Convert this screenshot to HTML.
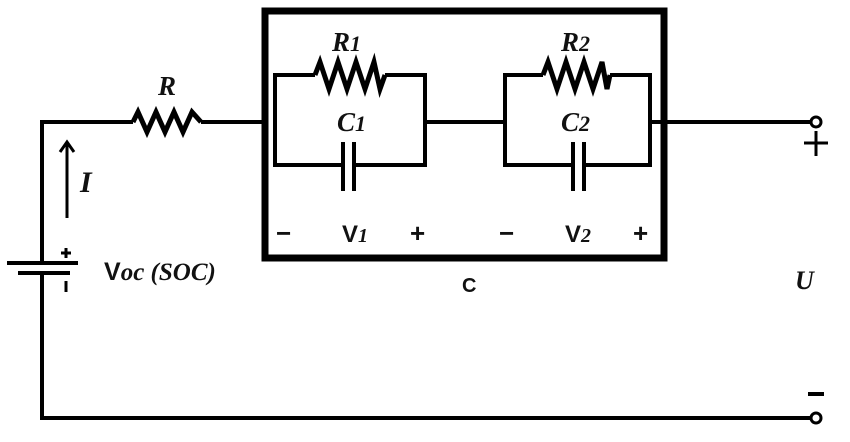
<!DOCTYPE html>
<html><head><meta charset="utf-8"><style>
html,body{margin:0;padding:0;background:#fff;}
svg{display:block;}
.w{stroke:#000;stroke-width:4;fill:none;stroke-linejoin:miter;}
.z{stroke:#000;stroke-width:5;fill:none;stroke-linejoin:miter;}
.s{font-family:"Liberation Serif",serif;font-weight:bold;font-style:italic;fill:#111;}
.a{font-family:"Liberation Sans",sans-serif;font-weight:bold;fill:#111;}
</style></head><body>
<svg width="850" height="442" viewBox="0 0 850 442" xmlns="http://www.w3.org/2000/svg">
<polyline class="w" points="42,263 42,122 133,122"/>
<polyline class="z" points="133,122 138,112 147,132 156,112 165,132 174,112 183,132 192,112 201,122"/>
<line class="w" x1="201" y1="122" x2="265" y2="122"/>
<polyline class="w" points="42,273 42,418 811,418"/>
<circle cx="816" cy="418" r="5" fill="#fff" stroke="#000" stroke-width="3"/>
<line class="w" x1="664" y1="122" x2="811" y2="122"/>
<circle cx="816" cy="122" r="5" fill="#fff" stroke="#000" stroke-width="3"/>
<line class="w" x1="7" y1="263" x2="78" y2="263"/>
<line class="w" x1="18" y1="273" x2="70" y2="273"/>
<line x1="66" y1="248" x2="66" y2="258" stroke="#000" stroke-width="3"/>
<line x1="61" y1="253" x2="71" y2="253" stroke="#000" stroke-width="3"/>
<line x1="66" y1="281" x2="66" y2="292" stroke="#000" stroke-width="3"/>
<line x1="67" y1="218" x2="67" y2="143" stroke="#000" stroke-width="3"/>
<polyline points="60,152 67,142 74,152" stroke="#000" stroke-width="3" fill="none"/>
<rect x="265" y="11" width="399" height="247" fill="none" stroke="#000" stroke-width="7"/>
<polyline class="w" points="275,122 275,75 315,75"/>
<polyline class="z" points="315,75 320,62 329,89 338,62 347,89 356,62 365,89 374,62 380,89 385,75"/>
<polyline class="w" points="385,75 425,75 425,165 354,165"/>
<polyline class="w" points="343,165 275,165 275,122"/>
<line class="w" x1="343" y1="142" x2="343" y2="191"/>
<line class="w" x1="354" y1="142" x2="354" y2="191"/>
<line class="w" x1="425" y1="122" x2="505" y2="122"/>
<polyline class="w" points="505,122 505,75 543,75"/>
<polyline class="z" points="543,75 548,62 557,89 566,62 575,89 584,62 593,89 602,62 607,89 610,75"/>
<polyline class="w" points="610,75 650,75 650,165 584,165"/>
<polyline class="w" points="573,165 505,165 505,122"/>
<line class="w" x1="573" y1="142" x2="573" y2="191"/>
<line class="w" x1="584" y1="142" x2="584" y2="191"/>
<line class="w" x1="650" y1="122" x2="664" y2="122"/>
<text class="s" x="158" y="95" font-size="27">R</text>
<text class="s" x="80" y="192" font-size="30">I</text>
<text class="s" x="332" y="51" font-size="27">R<tspan font-size="22">1</tspan></text>
<text class="s" x="337" y="131" font-size="27">C<tspan font-size="22">1</tspan></text>
<text class="s" x="561" y="51" font-size="27">R<tspan font-size="22">2</tspan></text>
<text class="s" x="561" y="131" font-size="27">C<tspan font-size="22">2</tspan></text>
<text class="a" x="276" y="242" font-size="26">−</text>
<text class="a" x="342" y="242" font-size="24">V<tspan class="s" font-size="20">1</tspan></text>
<text class="a" x="410" y="242" font-size="26">+</text>
<text class="a" x="499" y="242" font-size="26">−</text>
<text class="a" x="565" y="242" font-size="24">V<tspan class="s" font-size="20">2</tspan></text>
<text class="a" x="633" y="242" font-size="26">+</text>
<text x="104" y="280" font-size="25"><tspan class="a">V</tspan><tspan class="s" font-size="25">oc (SOC)</tspan></text>
<text class="a" x="462" y="292" font-size="20">C</text>
<text class="s" x="795" y="289" font-size="26">U</text>
<line x1="804" y1="143" x2="828" y2="143" stroke="#000" stroke-width="3"/>
<line x1="816" y1="131" x2="816" y2="156" stroke="#000" stroke-width="3"/>
<line x1="808" y1="394" x2="824" y2="394" stroke="#000" stroke-width="4"/>
</svg>
</body></html>
